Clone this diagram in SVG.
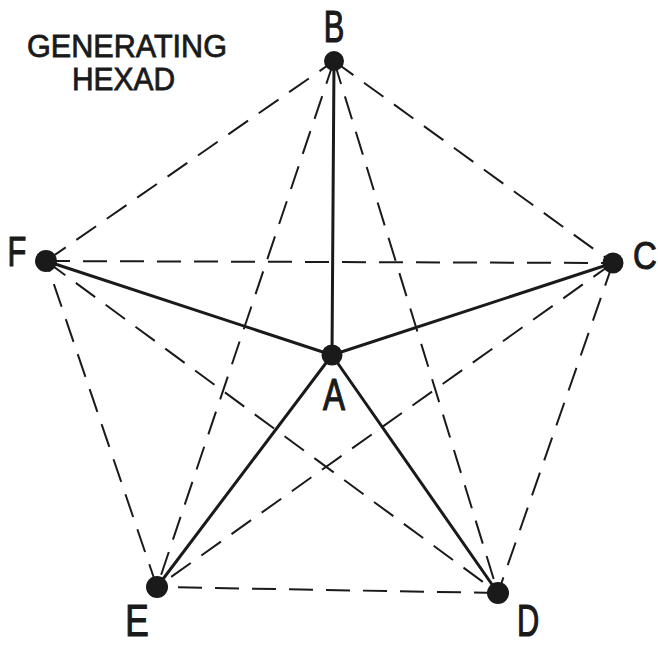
<svg xmlns="http://www.w3.org/2000/svg" width="658" height="645" viewBox="0 0 658 645">
<style>
.solid{stroke:#1a1a1a;stroke-width:3;fill:none;stroke-linecap:round}
.dash{stroke:#1a1a1a;stroke-width:2;fill:none;stroke-dasharray:24 13}
.dot{fill:#1a1a1a}
.lbl{font-family:"Liberation Sans",Arial,sans-serif;fill:#1a1a1a;stroke:#1a1a1a;stroke-width:1.2;font-size:44px}
.title{font-family:"Liberation Sans",Arial,sans-serif;fill:#1a1a1a;stroke:#1a1a1a;stroke-width:0.8;font-size:32px}
</style>
<rect width="658" height="645" fill="#ffffff"/>
<g id="connectors">
  <line class="dash" x1="334" y1="61" x2="613" y2="263"/>
  <line class="dash" x1="613" y1="263" x2="498" y2="593"/>
  <line class="dash" x1="498" y1="593" x2="157" y2="587"/>
  <line class="dash" x1="157" y1="587" x2="46" y2="261"/>
  <line class="dash" x1="46" y1="261" x2="334" y2="61"/>
  <line class="dash" x1="334" y1="61" x2="157" y2="587"/>
  <line class="dash" x1="334" y1="61" x2="498" y2="593"/>
  <line class="dash" x1="46" y1="261" x2="613" y2="263"/>
  <line class="dash" x1="613" y1="263" x2="157" y2="587"/>
  <line class="dash" x1="46" y1="261" x2="498" y2="593"/>
  <line class="solid" x1="332" y1="355" x2="334" y2="61"/>
  <line class="solid" x1="332" y1="355" x2="613" y2="263"/>
  <line class="solid" x1="332" y1="355" x2="498" y2="593"/>
  <line class="solid" x1="332" y1="355" x2="157" y2="587"/>
  <line class="solid" x1="332" y1="355" x2="46" y2="261"/>
</g>
<g id="node-A"><circle class="dot" cx="332" cy="355" r="10.5"/><text class="lbl" transform="translate(334,410) scale(0.75,1)" text-anchor="middle">A</text></g>
<g id="node-B"><circle class="dot" cx="334" cy="61" r="10"/><text class="lbl" transform="translate(334,42) scale(0.7,1)" text-anchor="middle">B</text></g>
<g id="node-C"><circle class="dot" cx="613" cy="263" r="10.5"/><text class="lbl" transform="translate(645,269) scale(0.75,0.9)" text-anchor="middle">C</text></g>
<g id="node-D"><circle class="dot" cx="498" cy="593" r="11"/><text class="lbl" transform="translate(528,636) scale(0.7,1.02)" text-anchor="middle">D</text></g>
<g id="node-E"><circle class="dot" cx="157" cy="587" r="11"/><text class="lbl" transform="translate(137,636) scale(0.8,1.02)" text-anchor="middle">E</text></g>
<g id="node-F"><circle class="dot" cx="46" cy="261" r="11"/><text class="lbl" transform="translate(17,266) scale(0.7,0.97)" text-anchor="middle">F</text></g>
<g id="title">
  <text class="title" x="27" y="57" textLength="200" lengthAdjust="spacingAndGlyphs">GENERATING</text>
  <text class="title" x="72" y="90" textLength="103" lengthAdjust="spacingAndGlyphs">HEXAD</text>
</g>
</svg>
